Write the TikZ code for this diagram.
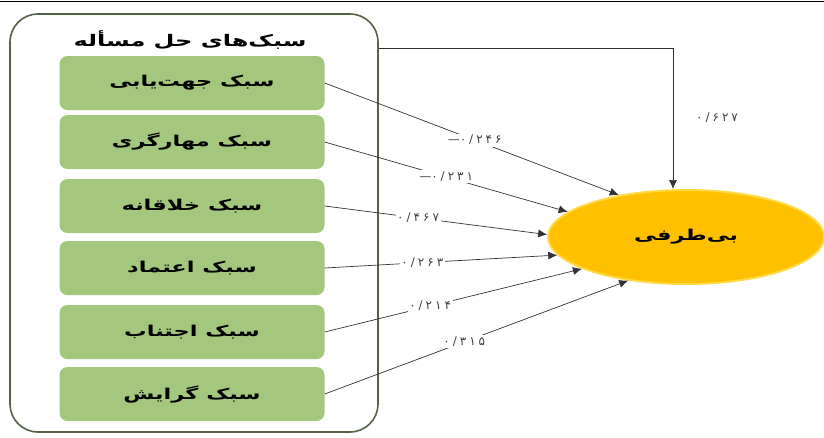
\documentclass[tikz,border=0pt]{standalone}
\usepackage{fontspec}
\usepackage{tikz}
\usetikzlibrary{arrows.meta,shapes.geometric}
\TeXXeTstate=1
\newfontfamily\fa[Script=Arabic,FakeStretch=1.5]{DejaVu Sans}
\newfontfamily\fanum[LetterSpace=25]{DejaVu Sans}
\definecolor{boxgreen}{RGB}{163,199,124}
\definecolor{framegreen}{RGB}{84,98,70}
\definecolor{nodeyellow}{RGB}{255,192,0}
\definecolor{edgeyellow}{RGB}{255,218,70}

\begin{document}
\begin{tikzpicture}[x=1pt,y=-1pt,
  stylebox/.style={fill=boxgreen,rounded corners=8pt,minimum width=265pt,minimum height=54pt,font=\fa\bfseries\fontsize{15}{17}\selectfont},
  coef/.style={fill=white,inner sep=1.5pt,text=black!75,font=\fanum\fontsize{12}{14}\selectfont},
  path/.style={draw=black!80,line width=0.7pt,-{Latex[length=9pt,width=8pt]}}]
\useasboundingbox (0,0) rectangle (824,437);
\draw [black,line width=0.8pt] (0,1) -- (824,1);
% outer frame and the six styles
\node [draw=framegreen,line width=1.6pt,rounded corners=28pt,minimum width=368pt,minimum height=418pt] (frame) at (194,223) {};
\node [font=\fa\bfseries\fontsize{16}{18}\selectfont] (title) at (190,40) {\beginR سبک‌های حل مسأله\endR};
\node [stylebox] (b1) at (192,83) {\beginR سبک جهت‌یابی\endR};
\node [stylebox] (b2) at (192,142) {\beginR سبک مهارگری\endR};
\node [stylebox] (b3) at (192,206) {\beginR سبک خلاقانه\endR};
\node [stylebox] (b4) at (192,268) {\beginR سبک اعتماد\endR};
\node [stylebox] (b5) at (192,332) {\beginR سبک اجتناب\endR};
\node [stylebox] (b6) at (192,394) {\beginR سبک گرایش\endR};
% outcome
\node [ellipse,fill=nodeyellow,draw=edgeyellow,line width=2pt,minimum width=276pt,minimum height=94pt,font=\fa\bfseries\fontsize{15}{17}\selectfont] (bt) at (686,237) {\beginR بی‌طرفی\endR};
% paths
\coordinate (corner) at (673,48);
\draw [path] (frame.east |- corner) -- (corner) -- (corner |- bt.north);
\node [coef] (c0) at (717,118) {۰/۶۲۷};
\draw [path] (b1.east) -- (bt.148) node [coef,pos=0.51] (c1) {\mbox{—}\mbox{۰/۲۴۶}};
\draw [path] (b2.east) -- (bt.168) node [coef,pos=0.5] (c2) {\mbox{—}\mbox{۰/۲۳۱}};
\draw [path] (b3.east) -- (bt.179) node [coef,pos=0.42] (c3) {۰/۴۶۷};
\draw [path] (b4.east) -- (bt.188) node [coef,pos=0.42] (c4) {۰/۲۶۳};
\draw [path] (b5.east) -- (bt.197) node [coef,pos=0.41] (c5) {۰/۲۱۴};
\draw [path] (b6.east) -- (bt.217) node [coef,pos=0.46] (c6) {۰/۳۱۵};
\end{tikzpicture}
\end{document}
